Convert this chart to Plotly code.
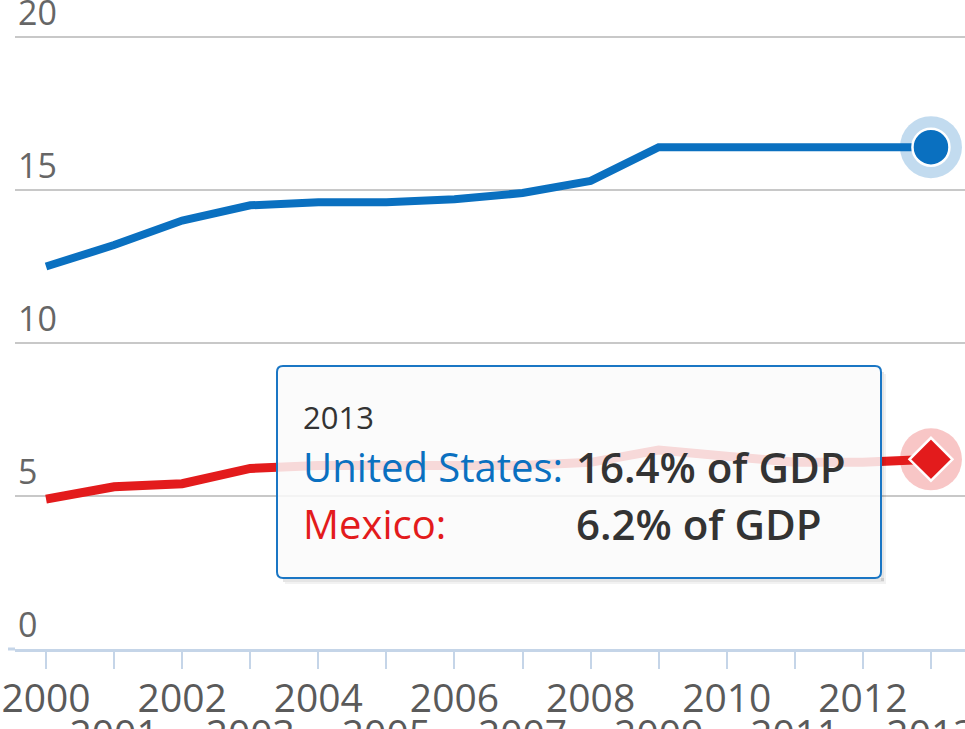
import plotly.graph_objects as go

# Health expenditure, total (% of GDP)
years = list(range(2000, 2014))
us_values = [12.5, 13.2, 14.0, 14.5, 14.6, 14.6, 14.7, 14.9, 15.3, 16.4, 16.4, 16.4, 16.4, 16.4]
mx_values = [4.9, 5.3, 5.4, 5.9, 6.0, 6.0, 6.0, 6.0, 6.1, 6.5, 6.3, 6.1, 6.1, 6.2]
series_names = ["United States", "Mexico"]
y_ticks = [0, 5, 10, 15, 20]

US_BLUE = "#0a70c0"
MX_RED = "#e31b1c"
W, H = 965, 729
ML, MR, MT, MB = 15, 0, 0, 80
PW, PH = W - ML - MR, H - MT - MB

def px_to_paper(x, y):
    return (x - ML) / PW, (H - MB - y) / PH

def rounded_rect(x0, y0, x1, y1, r):
    # rectangle with rounded corners, given in pixel coordinates, returned as paper path
    rx, ry = r / PW, r / PH
    a0, b1 = px_to_paper(x0, y0)
    a1, b0 = px_to_paper(x1, y1)
    return (f"M {a0+rx},{b1} L {a1-rx},{b1} Q {a1},{b1} {a1},{b1-ry} "
            f"L {a1},{b0+ry} Q {a1},{b0} {a1-rx},{b0} L {a0+rx},{b0} "
            f"Q {a0},{b0} {a0},{b0+ry} L {a0},{b1-ry} Q {a0},{b1} {a0+rx},{b1} Z")

def pixel_rect(x0, y0, x1, y1, color):
    a0, b1 = px_to_paper(x0, y0)
    a1, b0 = px_to_paper(x1, y1)
    return dict(type="rect", xref="paper", yref="paper", layer="above",
                x0=a0, x1=a1, y0=b0, y1=b1, fillcolor=color, line=dict(width=0))

fig = go.Figure()

fig.add_trace(go.Scatter(x=years, y=mx_values, mode="lines", name=series_names[1],
                         line=dict(color=MX_RED, width=9), hoverinfo="skip"))
fig.add_trace(go.Scatter(x=years, y=us_values, mode="lines", name=series_names[0],
                         line=dict(color=US_BLUE, width=8), hoverinfo="skip"))

# highlighted last points with halos
fig.add_trace(go.Scatter(x=[years[-1], years[-1]], y=[us_values[-1], mx_values[-1]], mode="markers",
                         marker=dict(size=62, color=["rgba(10,112,192,0.25)", "rgba(227,27,28,0.25)"]),
                         hoverinfo="skip", showlegend=False))
fig.add_trace(go.Scatter(x=[years[-1]], y=[us_values[-1]], mode="markers",
                         marker=dict(size=37, symbol="circle", color=US_BLUE,
                                     line=dict(color="white", width=2.5)),
                         hoverinfo="skip", showlegend=False))
fig.add_trace(go.Scatter(x=[years[-1]], y=[mx_values[-1]], mode="markers",
                         marker=dict(size=33, symbol="diamond", color=MX_RED,
                                     line=dict(color="white", width=2.5)),
                         hoverinfo="skip", showlegend=False))

# tooltip box with a soft drop shadow along its right and bottom edges
box = (277, 366, 881, 578)
shapes = [
    pixel_rect(box[2], box[1] + 6, box[2] + 3, box[3] + 3, "rgba(0,0,0,0.10)"),
    pixel_rect(box[0] + 6, box[3], box[2] + 3, box[3] + 4, "rgba(0,0,0,0.10)"),
    pixel_rect(box[2] + 3, box[1] + 8, box[2] + 5, box[3] + 4, "rgba(0,0,0,0.05)"),
    pixel_rect(box[0] + 8, box[3] + 4, box[2] + 5, box[3] + 6, "rgba(0,0,0,0.05)"),
    dict(type="path", xref="paper", yref="paper", layer="above",
         path=rounded_rect(*box, 6),
         fillcolor="rgba(250,250,250,0.85)", line=dict(color="#1a76c4", width=2)),
]
# short extension of the axis line to the left
a0, b0 = px_to_paper(8, H - MB)
shapes.append(dict(type="line", xref="paper", yref="paper", x0=a0, x1=0, y0=0, y1=0,
                   line=dict(color="#c5d5e8", width=3), layer="above"))

FONT = "Open Sans"
annotations = []

def add_text(text, x, y, size, color, weight=400):
    ax, ay = px_to_paper(x, y)
    annotations.append(dict(text=text, x=ax, y=ay, xref="paper", yref="paper",
                            xanchor="left", yanchor="middle", showarrow=False,
                            font=dict(family=FONT, size=size, color=color, weight=weight)))

add_text(str(years[-1]), 301, 417, 31, "#333333")
add_text(series_names[0] + ":", 301, 466, 40, US_BLUE)
add_text(series_names[1] + ":", 301, 523, 40, MX_RED)
add_text(f"{us_values[-1]:.1f}% of GDP", 574, 466, 42, "#333333", 600)
add_text(f"{mx_values[-1]:.1f}% of GDP", 574, 523, 42, "#333333", 600)

x_range = [years[0] - 31 / 68, years[-1] + 34 / 68]

fig.update_layout(
    width=W, height=H,
    margin=dict(l=ML, r=MR, t=MT, b=MB, autoexpand=False),
    paper_bgcolor="white", plot_bgcolor="white",
    showlegend=False,
    shapes=shapes,
    annotations=annotations,
    font=dict(family=FONT, color="#666666"),
    xaxis=dict(
        range=x_range,
        tickvals=years,
        ticktext=[str(y) if y % 2 == 0 else "" for y in years],
        ticks="outside", ticklen=17, tickwidth=2, tickcolor="#c5d5e8",
        showline=True, linecolor="#c5d5e8", linewidth=3,
        showgrid=False, zeroline=False,
        ticklabelstandoff=-4,
        ticklabeloverflow="allow",
        automargin=False,
        tickfont=dict(size=39, color="#5a5a5a"),
        fixedrange=True,
    ),
    xaxis2=dict(
        overlaying="x", matches="x", anchor="y", side="bottom",
        tickvals=years,
        ticktext=[str(y) if y % 2 == 1 else "" for y in years],
        ticks="", showline=False, showgrid=False, zeroline=False,
        ticklabelstandoff=59,
        ticklabeloverflow="allow",
        automargin=False,
        tickfont=dict(size=39, color="#5a5a5a"),
    ),
    yaxis=dict(
        range=[0, (H - MB) / 30.6],
        tickvals=y_ticks,
        ticktext=[str(v) for v in y_ticks],
        ticklabelposition="inside top",
        ticklabeloverflow="allow",
        automargin=False,
        showgrid=True, gridcolor="#c8c8c8", gridwidth=2,
        zeroline=False, showline=False, ticks="",
        tickfont=dict(size=34, color="#666666"),
        fixedrange=True,
    ),
)

# empty trace so the secondary x axis is drawn
fig.add_trace(go.Scatter(x=[years[0]], y=[None], xaxis="x2", showlegend=False, hoverinfo="skip"))

fig.write_html("out.html")
